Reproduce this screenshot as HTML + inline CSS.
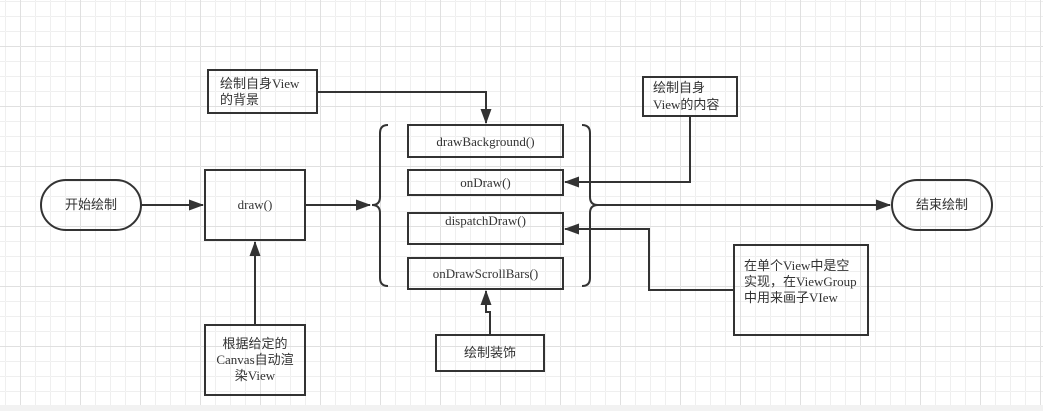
<!DOCTYPE html>
<html><head><meta charset="utf-8"><style>
html,body{margin:0;padding:0;background:#fff;}
svg{display:block;}
text{font-family:"Liberation Serif","Noto Sans CJK SC",serif;font-size:13px;fill:#333;}
</style></head><body>
<svg width="1043" height="411" viewBox="0 0 1043 411" xmlns="http://www.w3.org/2000/svg">
<defs>
<pattern id="minor" x="5" y="1" width="15" height="15" patternUnits="userSpaceOnUse">
<path d="M0 0H15M0 0V15" stroke="#efefef" stroke-width="1" fill="none" transform="translate(0.5,0.5)"/>
</pattern>
<pattern id="major" x="20" y="46" width="60" height="60" patternUnits="userSpaceOnUse">
<path d="M0 0H60M0 0V60" stroke="#e0e0e0" stroke-width="1" fill="none" transform="translate(0.5,0.5)"/>
</pattern>
<marker id="ar" markerWidth="15" markerHeight="12" refX="14" refY="6" orient="auto" markerUnits="userSpaceOnUse">
<path d="M0 0.5L15 6L0 11.5Z" fill="#333"/>
</marker>
</defs>
<rect width="1043" height="411" fill="#fff"/>
<rect width="1043" height="405" fill="url(#minor)"/>
<rect width="1043" height="405" fill="url(#major)"/>
<rect y="405" width="1043" height="6" fill="#f2f2f2"/>

<g fill="none" stroke="#333" stroke-width="2">
<rect x="41" y="180" width="100" height="50" rx="25"/>
<rect x="892" y="180" width="100" height="50" rx="25"/>
<rect x="205" y="170" width="100" height="70"/>
<rect x="208" y="70" width="109" height="43"/>
<rect x="643" y="77" width="94" height="39"/>
<rect x="408" y="125" width="155" height="32"/>
<rect x="408" y="170" width="155" height="25"/>
<rect x="408" y="213" width="155" height="31"/>
<rect x="408" y="258" width="155" height="31"/>
<rect x="734" y="245" width="134" height="90"/>
<rect x="205" y="325" width="100" height="70"/>
<rect x="436" y="335" width="108" height="36"/>
<path d="M388 125 Q380 125 380 133 V197 Q380 205 372 205 Q380 205 380 213 V278 Q380 286 388 286"/>
<path d="M582 125 Q590 125 590 133 V197 Q590 205 598 205 Q590 205 590 213 V278 Q590 286 582 286"/>
<path d="M141 205H203" marker-end="url(#ar)"/>
<path d="M305 205H370" marker-end="url(#ar)"/>
<path d="M598 205H890" marker-end="url(#ar)"/>
<path d="M317 92H486V123" marker-end="url(#ar)"/>
<path d="M690 116V182H565" marker-end="url(#ar)"/>
<path d="M734 290H649V229H565" marker-end="url(#ar)"/>
<path d="M255 325V242" marker-end="url(#ar)"/>
<path d="M490 335V312H486V291" marker-end="url(#ar)"/>
</g>

<text x="91" y="209" text-anchor="middle">开始绘制</text>
<text x="942" y="209" text-anchor="middle">结束绘制</text>
<text x="255" y="209" text-anchor="middle">draw()</text>
<text x="220" y="88">绘制自身View</text>
<text x="220" y="104">的背景</text>
<text x="653" y="92">绘制自身</text>
<text x="653" y="109">View的内容</text>
<text x="485.5" y="146" text-anchor="middle">drawBackground()</text>
<text x="485.5" y="187" text-anchor="middle">onDraw()</text>
<text x="485.5" y="225" text-anchor="middle">dispatchDraw()</text>
<text x="485.5" y="278" text-anchor="middle">onDrawScrollBars()</text>
<text x="744" y="270">在单个View中是空</text>
<text x="744" y="286">实现，在ViewGroup</text>
<text x="744" y="302">中用来画子VIew</text>
<text x="255" y="348" text-anchor="middle">根据给定的</text>
<text x="255" y="364" text-anchor="middle">Canvas自动渲</text>
<text x="255" y="380" text-anchor="middle">染View</text>
<text x="490" y="357" text-anchor="middle">绘制装饰</text>
</svg>
</body></html>
